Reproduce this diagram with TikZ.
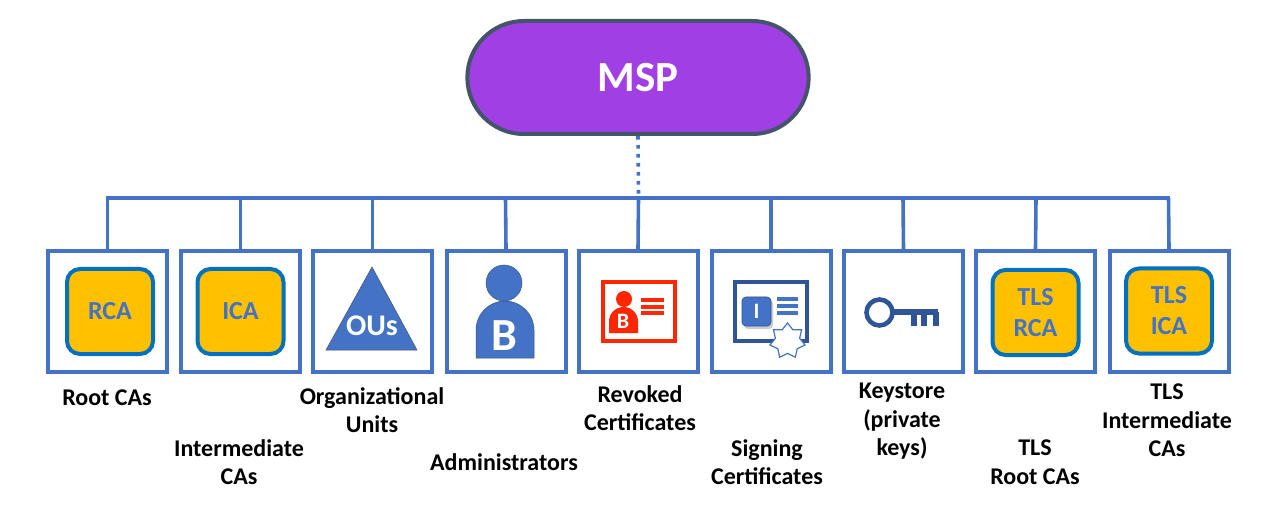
\documentclass[tikz,border=0pt]{standalone}
\usepackage{fontspec}
\setmainfont{Carlito}
\usetikzlibrary{positioning,shapes.geometric,shapes.misc,shadows}
\definecolor{LineBlue}{HTML}{4472C4}
\definecolor{DarkBlue}{HTML}{2F5597}
\definecolor{CaBorder}{HTML}{0070C0}
\definecolor{CaGold}{HTML}{FFC000}
\definecolor{MspPurple}{HTML}{A040E4}
\definecolor{MspBorder}{HTML}{44546A}
\definecolor{RevokedRed}{HTML}{FF2600}

\begin{document}
\begin{tikzpicture}[
    x=1pt,y=-1pt,
    mspnode/.style={rounded rectangle,draw=MspBorder,line width=4pt,fill=MspPurple,text=white,
      minimum width=348pt,minimum height=113pt,font=\fontsize{43}{43}\selectfont\bfseries,
      drop shadow={shadow xshift=1pt,shadow yshift=-2pt,opacity=.35}},
    itembox/.style={rectangle,draw=LineBlue,line width=4pt,fill=white,minimum width=119pt,minimum height=121pt},
    canode/.style={rectangle,rounded corners=13pt,draw=CaBorder,line width=4pt,fill=CaGold,text=LineBlue,
      minimum width=86pt,minimum height=85pt,align=center,font=\fontsize{26}{31}\selectfont\bfseries},
    itemlabel/.style={align=center,font=\fontsize{24}{28.5}\selectfont\bfseries,text=black},
    link/.style={draw=LineBlue,line width=3.6pt},
    cardtext/.style={font=\bfseries,text=white,inner sep=0pt},
  ]
  \useasboundingbox (0,0) rectangle (1282,529);

  \node[mspnode] (msp) at (638,77.5) {MSP};

  \coordinate (busL) at (107.7,198);
  \coordinate (busR) at (1168.5,198);
  \coordinate (busM) at (638.5,198);
  \draw[link,line cap=rect] (busL)--(busR);
  \draw[LineBlue,line width=3.6pt,dash pattern=on 3.6pt off 5.4pt] (msp.south)--(busM);

  % boxes and their drops
  \foreach \n/\x/\dx in {root/107.5/0,inter/240.5/0,ous/372.5/0,admin/506/-.5,revoked/638/.5,
      signing/771/0,keystore/903.5/-.5,tlsroot/1035.5/.5,tlsinter/1169/-.5} {
    \node[itembox] (\n) at (\x,311.5) {};
    \coordinate (top\n) at (\x+\dx,198);
    \draw[link] (top\n)--(\n.north);
  }

  % CA tiles
  \node[canode] (rca) at (110,311.5) {RCA};
  \node[canode] (ica) at (240.5,311.5) {ICA};
  \node[canode] (tlsrca) at (1035.5,312.5) {TLS\\RCA};
  \node[canode] (tlsica) at (1169,311) {TLS\\ICA};

  % organizational units
  \draw[fill=LineBlue,draw=MspBorder,line width=.5pt] (372,267)--(417,350)--(326,350)--cycle;
  \node[cardtext,font=\fontsize{30}{30}\selectfont\bfseries] (ousname) at (372,326) {OUs};

  % administrator
  \fill[LineBlue,draw=DarkBlue,line width=.5pt] (476,358)--(476,330) arc (180:360:29)--(534,358)--cycle;
  \draw[fill=LineBlue,draw=DarkBlue,line width=.5pt] (504,283) circle (18);
  \node[cardtext,font=\fontsize{46}{46}\selectfont\bfseries] (adminb) at (504,336) {B};

  % revoked card
  \draw[RevokedRed,line width=4pt] (603,282) rectangle (675,341);
  \fill[RevokedRed] (609,333)--(609,321.5) arc (180:360:14.5)--(638,333)--cycle;
  \fill[RevokedRed] (624,299) circle (8);
  \node[cardtext,font=\fontsize{22}{22}\selectfont\bfseries] (revokedb) at (623,321) {B};
  \foreach \y in {300,306.5,313}
    \fill[RevokedRed] (641,\y-2) rectangle (664,\y+2);

  % signing certificate
  \draw[DarkBlue,line width=4pt] (735,282) rectangle (807,341);
  \node[rectangle,rounded corners=4pt,fill=LineBlue,draw=DarkBlue,line width=.7pt,minimum size=29pt,
    drop shadow={shadow xshift=2pt,shadow yshift=-3pt,opacity=.4},
    text=white,font=\fontsize{22}{22}\selectfont\bfseries] (signi) at (756.5,311.5) {I};
  \foreach \y in {299,306,313}
    \fill[LineBlue] (777,\y-2) rectangle (798,\y+2);
  \node[star,star points=7,star point ratio=1.45,draw=LineBlue,line width=1.2pt,fill=white,
    minimum size=36pt,inner sep=0pt] (signstar) at (787.5,341) {};

  % key
  \draw[DarkBlue,line width=4.6pt] (879.5,312.5) circle (13);
  \fill[DarkBlue] (892,309) rectangle (938,315);
  \foreach \x in {911,921,933}
    \fill[DarkBlue] (\x,312) rectangle (\x+5.5,326);

  % labels
  \node[itemlabel] (lroot) at (107,397.5) {Root CAs};
  \node[itemlabel] (linter) at (239,462) {Intermediate\\CAs};
  \node[itemlabel] (lous) at (372,410) {Organizational\\Units};
  \node[itemlabel] (ladmin) at (504,462) {Administrators};
  \node[itemlabel] (lrevoked) at (640,408) {Revoked\\Certificates};
  \node[itemlabel] (lsigning) at (767,462) {Signing\\Certificates};
  \node[itemlabel] (lkeystore) at (902,421.5) {Keystore\\(private\\keys)};
  \node[itemlabel] (ltlsroot) at (1035,462) {TLS\\Root CAs};
  \node[itemlabel] (ltlsinter) at (1167,420.5) {TLS\\Intermediate\\CAs};
\end{tikzpicture}
\end{document}
